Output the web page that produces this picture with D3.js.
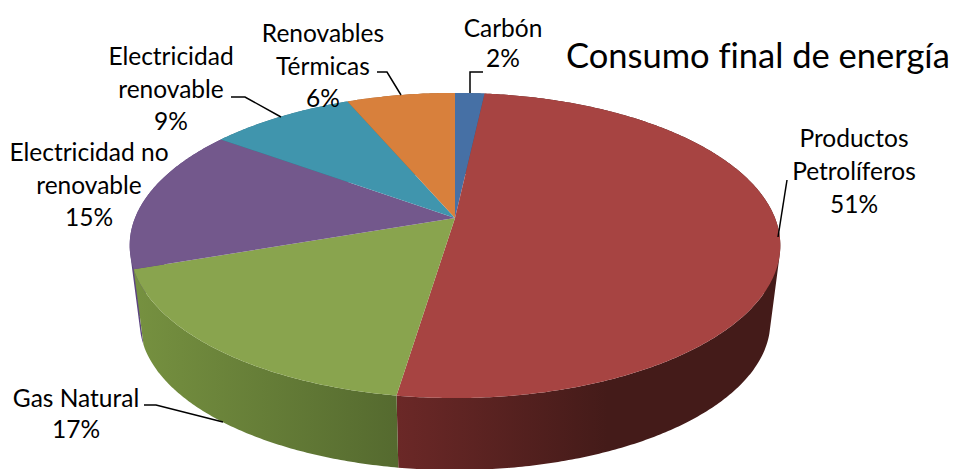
<!DOCTYPE html>
<html>
<head>
<meta charset="utf-8">
<script src="https://cdn.jsdelivr.net/npm/d3@7"></script>
<style>
html, body { margin: 0; padding: 0; background: #fff; }
svg { display: block; }
text { font-family: Lato, "Open Sans", sans-serif; fill: #000; font-variant-ligatures: none; }
.label { font-size: 24.5px; text-anchor: middle; }
.title { font-size: 34.5px; }
.leader { fill: none; stroke: #000; stroke-width: 1.5; }
</style>
</head>
<body>
<script>
var categories = ["Carbón", "Productos Petrolíferos", "Gas Natural", "Electricidad no renovable", "Electricidad renovable", "Renovables Térmicas"];
// printed labels are rounded, slices read a little finer off the picture
var values = [1.74, 50.66, 17.3, 15.3, 8.6, 6.4];
var labelLines = [["Carbón"], ["Productos", "Petrolíferos"], ["Gas Natural"], ["Electricidad no", "renovable"], ["Electricidad", "renovable"], ["Renovables", "Térmicas"]];
var topColors = ["#4670a5", "#a74442", "#89a44e", "#73588c", "#4095ad", "#d8803c"];
var sideColors = [["#37587f", "#37587f"], ["#6b2827", "#441b19"], ["#769140", "#556a2f"], ["#5c4480", "#5c4480"], ["#30707f", "#30707f"], ["#9c5c2a", "#9c5c2a"]];
var title = "Consumo final de energía";

var width = 953, height = 469;
var cx = 455;

// pie is seen in perspective, so the apex is not the middle of the ellipse
var persp = -0.18, apexY = 218, spreadY = 108.4, spreadX = 320;
// bottom rim is a smaller copy of the top rim
var rimMidY = 245.5, lowMidY = 322, lowScaleX = 315 / 325, lowScaleY = 148 / 152.5;

// label anchors: [x, first baseline, line height]
var labelPos = [[503, 37, 30], [854, 147, 33], [76, 407, 31], [89, 161, 32.5], [171, 65, 32.5], [323, 42, 32.5]];
var leaders = [
    [[470, 93], [470, 72], [483, 72]],
    [[778, 237], [787, 180]],
    [[223, 422], [156, 405], [144, 405]],
    [],
    [[281, 117], [245, 97], [231, 97]],
    [[401, 95], [387, 72], [377, 72]]
];

var svg = d3.select("body").append("svg")
    .attr("width", width)
    .attr("height", height);

var arcs = d3.pie().sort(null).value(function(d) { return d; })(values);

function topPoint(a)
{
    var u = Math.sin(a), v = -Math.cos(a);
    var w = 1 + persp * v;
    return [cx + spreadX * u / w, (apexY + spreadY * v) / w];
}

function lowPoint(a)
{
    var p = topPoint(a);
    return [cx + (p[0] - cx) * lowScaleX, lowMidY + (p[1] - rimMidY) * lowScaleY];
}

function sample(a0, a1)
{
    var n = Math.max(2, Math.ceil((a1 - a0) / 0.01));
    return d3.range(n + 1).map(function(i) { return a0 + (a1 - a0) * i / n; });
}

var line = d3.line();
var defs = svg.append("defs");

arcs.forEach(function(d, i) {
    var xs = sample(d.startAngle, d.endAngle).map(function(a) { return topPoint(a)[0]; });
    var x0 = d3.min(xs), x1 = d3.max(xs);
    var grad = defs.append("linearGradient")
        .attr("id", "side" + i)
        .attr("gradientUnits", "userSpaceOnUse")
        .attr("x1", x0)
        .attr("x2", i == 1 ? x0 + (x1 - x0) * 0.55 : x1)
        .attr("y1", 0)
        .attr("y2", 0);
    grad.append("stop").attr("offset", 0).attr("stop-color", sideColors[i][0]);
    grad.append("stop").attr("offset", 1).attr("stop-color", sideColors[i][1]);
});

// sides first, from the back round to the front; one quad per step so the
// straight silhouette between the two rims gets filled as well
[3, 4, 5, 0, 1, 2].forEach(function(i) {
    var d = arcs[i];
    var angles = sample(d.startAngle, d.endAngle);
    var path = "";
    d3.pairs(angles).forEach(function(p) {
        var quad = [topPoint(p[0]), topPoint(p[1]), lowPoint(p[1]), lowPoint(p[0])];
        if (d3.polygonArea(quad) < 0) quad.reverse();
        path += line(quad) + "Z";
    });
    svg.append("path")
        .attr("d", path)
        .attr("fill", "url(#side" + i + ")");
});

arcs.forEach(function(d, i) {
    var pts = sample(d.startAngle, d.endAngle).map(topPoint);
    pts.unshift([cx, apexY]);
    svg.append("path")
        .attr("d", line(pts) + "Z")
        .attr("fill", topColors[i]);
});

svg.selectAll(".leader")
    .data(leaders.filter(function(d) { return d.length > 0; }))
    .enter().append("path")
    .attr("class", "leader")
    .attr("d", line);

arcs.forEach(function(d, i) {
    var pos = labelPos[i];
    var lines = labelLines[i].concat([Math.round(values[i]) + "%"]);
    var t = svg.append("text")
        .attr("class", "label")
        .attr("aria-label", categories[i]);
    lines.forEach(function(s, j) {
        t.append("tspan")
            .attr("x", pos[0])
            .attr("y", pos[1] + j * pos[2])
            .text(s);
    });
});

svg.append("text")
    .attr("class", "title")
    .attr("x", 566)
    .attr("y", 68)
    .text(title);
</script>
</body>
</html>
